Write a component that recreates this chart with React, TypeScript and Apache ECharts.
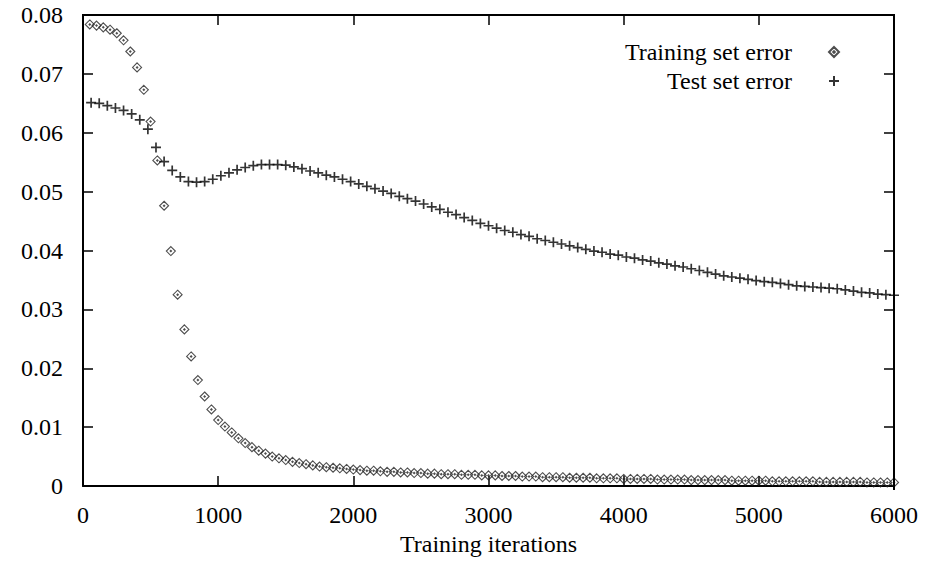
import React, { useEffect, useRef } from "react";
import * as echarts from "echarts";

// Training iterations step for each series
const trainStep = 50;
const testStep = 60;

// Training set error, read every 50 iterations (50 .. 6000)
const trainingError = [
  0.0784, 0.0782, 0.0779, 0.0775, 0.0769, 0.0757, 0.0738, 0.0711, 0.0673, 0.0619,
  0.0553, 0.0476, 0.0399, 0.0325, 0.0266, 0.0220, 0.0180, 0.0152, 0.0130, 0.0112,
  0.0101, 0.0091, 0.0081, 0.0073, 0.0066, 0.0060, 0.0055, 0.0050, 0.0047, 0.0044,
  0.0041, 0.0039, 0.0037, 0.0035, 0.0033, 0.0032, 0.0031, 0.0030, 0.0029, 0.0028,
  0.0027, 0.0026, 0.0026, 0.0025, 0.0024, 0.0024, 0.0023, 0.0023, 0.0022, 0.0022,
  0.0021, 0.0021, 0.0020, 0.0020, 0.0020, 0.0019, 0.0019, 0.0019, 0.0018, 0.0018,
  0.0018, 0.0017, 0.0017, 0.0017, 0.0016, 0.0016, 0.0016, 0.0015, 0.0015, 0.0015,
  0.0015, 0.0014, 0.0014, 0.0014, 0.0014, 0.0013, 0.0013, 0.0013, 0.0013, 0.0012,
  0.0012, 0.0012, 0.0012, 0.0012, 0.0011, 0.0011, 0.0011, 0.0011, 0.0011, 0.0010,
  0.0010, 0.0010, 0.0010, 0.0010, 0.0010, 0.0009, 0.0009, 0.0009, 0.0009, 0.0009,
  0.0009, 0.0008, 0.0008, 0.0008, 0.0008, 0.0008, 0.0008, 0.0008, 0.0007, 0.0007,
  0.0007, 0.0007, 0.0007, 0.0007, 0.0007, 0.0006, 0.0006, 0.0006, 0.0006, 0.0006,
];

// Test set error, read every 60 iterations (60 .. 6000)
const testError = [
  0.0651, 0.0650, 0.0646, 0.0642, 0.0638, 0.0632, 0.0622, 0.0606, 0.0575, 0.0551,
  0.0536, 0.0525, 0.0517, 0.0516, 0.0517, 0.0521, 0.0527, 0.0532, 0.0537, 0.0541,
  0.0544, 0.0546, 0.0546, 0.0546, 0.0545, 0.0542, 0.0539, 0.0535, 0.0532, 0.0528,
  0.0525, 0.0521, 0.0517, 0.0513, 0.0509, 0.0505, 0.0501, 0.0497, 0.0492, 0.0488,
  0.0484, 0.0479, 0.0474, 0.0470, 0.0465, 0.0461, 0.0456, 0.0451, 0.0446, 0.0442,
  0.0438, 0.0434, 0.0431, 0.0427, 0.0424, 0.0420, 0.0417, 0.0414, 0.0411, 0.0408,
  0.0405, 0.0402, 0.0399, 0.0397, 0.0394, 0.0392, 0.0389, 0.0387, 0.0384, 0.0382,
  0.0379, 0.0377, 0.0374, 0.0372, 0.0369, 0.0366, 0.0363, 0.0360, 0.0357, 0.0355,
  0.0353, 0.0351, 0.0349, 0.0347, 0.0346, 0.0344, 0.0342, 0.0340, 0.0339, 0.0338,
  0.0337, 0.0336, 0.0335, 0.0333, 0.0331, 0.0329, 0.0328, 0.0326, 0.0325, 0.0324,
];

const seriesNames = ["Training set error", "Test set error"];
const xTitle = "Training iterations";
const xTicks = [0, 1000, 2000, 3000, 4000, 5000, 6000];
const yTicks = [0, 0.01, 0.02, 0.03, 0.04, 0.05, 0.06, 0.07, 0.08];

const FONT = "'Liberation Serif', 'Times New Roman', serif";
const FS = 24;
const DIAMOND =
  "path://M5,0 L10,5 L5,10 L0,5 Z M5,4.2 L5.8,5 L5,5.8 L4.2,5 Z";
const PLUS = "path://M0,5 L10,5 M5,0 L5,10";

const W = 928;
const H = 561;
const G = { left: 83, right: 34, top: 15, bottom: 72 };
const FRAME = "#000";
const FRAME_W = 2;

export default function App() {
  const ref = useRef<HTMLDivElement>(null);

  useEffect(() => {
    if (!ref.current) return;
    const chart = echarts.init(ref.current, undefined, { renderer: "svg" });

    const trainData = trainingError.map((v, i) => [(i + 1) * trainStep, v]);
    const testData = testError.map((v, i) => [(i + 1) * testStep, v]);

    const xMin = xTicks[0];
    const xMax = xTicks[xTicks.length - 1];
    const xInt = xTicks[1] - xTicks[0];
    const yMin = yTicks[0];
    const yMax = yTicks[yTicks.length - 1];
    const yInt = yTicks[1] - yTicks[0];

    const axisLine = { show: true, onZero: false, lineStyle: { color: FRAME, width: FRAME_W } };
    const tick = { show: true, inside: true, length: 10, lineStyle: { color: FRAME, width: 1.5 } };
    const x0 = G.left;
    const x1 = W - G.right;
    const y0 = G.top;
    const yb = H - G.bottom;

    chart.setOption({
      animation: false,
      backgroundColor: "#fff",
      textStyle: { fontFamily: FONT },
      grid: { ...G, containLabel: false },
      graphic: [
        {
          type: "rect",
          silent: true,
          z: 100,
          shape: { x: x0 - 1, y: y0 - 1, width: x1 - x0 + 2, height: FRAME_W },
          style: { fill: FRAME, stroke: null },
        },
        {
          type: "rect",
          silent: true,
          z: 100,
          shape: { x: x1 - 1, y: y0 - 1, width: FRAME_W, height: yb - y0 + 2 },
          style: { fill: FRAME, stroke: null },
        },
      ],
      legend: {
        data: seriesNames,
        orient: "vertical",
        right: 88,
        top: 40,
        align: "right",
        itemWidth: 10,
        itemHeight: 10,
        itemGap: 5,
        padding: 0,
        selectedMode: false,
        textStyle: { color: "#000", fontFamily: FONT, fontSize: FS, lineHeight: 24, padding: [0, 32, 0, 0] },
      },
      xAxis: [
        {
          type: "value",
          position: "bottom",
          min: xMin,
          max: xMax,
          interval: xInt,
          axisLine,
          axisTick: tick,
          splitLine: { show: false },
          axisLabel: {
            color: "#000",
            fontFamily: FONT,
            fontSize: FS,
            margin: 17,
            lineHeight: 24,
            formatter: (v: number) => String(v),
          },
          name: xTitle,
          nameLocation: "middle",
          nameGap: 46,
          nameTextStyle: { color: "#000", fontFamily: FONT, fontSize: FS, lineHeight: 24 },
        },
        {
          type: "value",
          position: "top",
          min: xMin,
          max: xMax,
          interval: xInt,
          axisLine,
          axisTick: tick,
          splitLine: { show: false },
          axisLabel: { show: false },
        },
      ],
      yAxis: [
        {
          type: "value",
          position: "left",
          min: yMin,
          max: yMax,
          interval: yInt,
          axisLine,
          axisTick: tick,
          splitLine: { show: false },
          axisLabel: {
            color: "#000",
            fontFamily: FONT,
            fontSize: FS,
            margin: 20,
            formatter: (v: number) => (v === 0 ? "0" : v.toFixed(2)),
          },
        },
        {
          type: "value",
          position: "right",
          min: yMin,
          max: yMax,
          interval: yInt,
          axisLine,
          axisTick: tick,
          splitLine: { show: false },
          axisLabel: { show: false },
        },
      ],
      series: [
        {
          name: seriesNames[0],
          type: "scatter",
          xAxisIndex: 0,
          yAxisIndex: 0,
          data: trainData,
          symbol: DIAMOND,
          symbolSize: 9,
          clip: false,
          itemStyle: { color: "rgba(0,0,0,0)", borderColor: "#222", borderWidth: 1.1 },
          emphasis: { disabled: true },
        },
        {
          name: seriesNames[1],
          type: "scatter",
          xAxisIndex: 0,
          yAxisIndex: 0,
          data: testData,
          symbol: PLUS,
          symbolSize: 10,
          clip: false,
          itemStyle: { color: "rgba(0,0,0,0)", borderColor: "#000", borderWidth: 1.7 },
          emphasis: { disabled: true },
        },
      ],
    });

    return () => chart.dispose();
  }, []);

  return (
    <div
      ref={ref}
      style={{ position: "fixed", left: 0, top: 0, width: W, height: H, background: "#fff" }}
    />
  );
}
